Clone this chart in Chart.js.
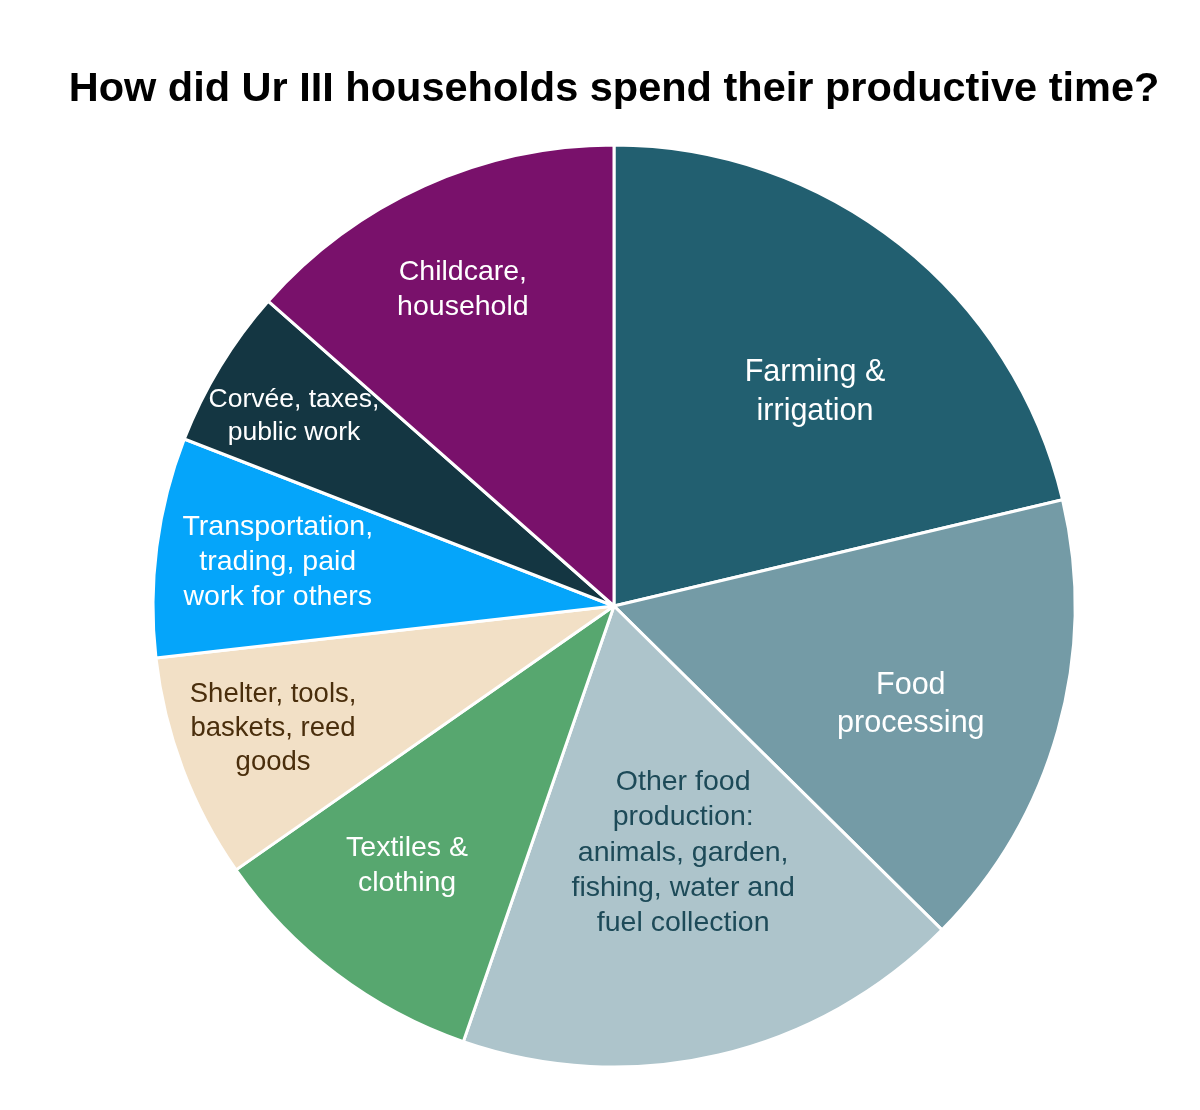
<!DOCTYPE html>
<html>
<head>
<meta charset="utf-8">
<script src="https://cdn.jsdelivr.net/npm/chart.js@4/dist/chart.umd.min.js"></script>
<style>
  html, body { margin: 0; padding: 0; background: #ffffff; }
  #wrap { width: 1200px; height: 1110px; position: relative; }
</style>
</head>
<body>
<div id="wrap"><canvas id="c" width="1200" height="1110"></canvas></div>
<script>
// ---- Data ----
const titleText = "How did Ur III households spend their productive time?";
const categories = [
  "Farming &\nirrigation",
  "Food\nprocessing",
  "Other food\nproduction:\nanimals, garden,\nfishing, water and\nfuel collection",
  "Textiles &\nclothing",
  "Shelter, tools,\nbaskets, reed\ngoods",
  "Transportation,\ntrading, paid\nwork for others",
  "Corvée, taxes,\npublic work",
  "Childcare,\nhousehold"
];
const shares = [21.3, 16.1, 17.9, 10.0, 7.9, 7.7, 5.6, 13.5];

// ---- Styles ----
const sliceColors = ["#225F70", "#749BA6", "#ADC4CB", "#57A76F", "#F2E0C6", "#05A5FA", "#143642", "#79116B"];
const labelColors = ["#ffffff", "#ffffff", "#1D4A58", "#ffffff", "#4A2E0C", "#ffffff", "#ffffff", "#ffffff"];
const labelFontSizes = [30.5, 30.5, 28.5, 28.5, 27.5, 28.5, 26.5, 28.5];
const labelLineHeights = [39, 38, 35.3, 35, 34, 35, 33, 35];
// label placement: radius as fraction of outer radius, angular nudge in degrees
const labelRadiusFrac = [0.633, 0.680, 0.560, 0.723, 0.787, 0.735, 0.805, 0.756];
const labelAngleNudge = [5.2, 3.1, -2.4, 1.3, 0.7, -0.3, -0.9, -1.4];
const FONT = '"Liberation Sans", Arial, Helvetica, sans-serif';

const sliceLabels = {
  id: 'sliceLabels',
  afterDatasetsDraw(chart) {
    const ctx = chart.ctx;
    const meta = chart.getDatasetMeta(0);
    meta.data.forEach((arc, i) => {
      const p = arc.getProps(['x', 'y', 'startAngle', 'endAngle', 'outerRadius'], true);
      const mid = (p.startAngle + p.endAngle) / 2 + labelAngleNudge[i] * Math.PI / 180;
      const r = p.outerRadius * labelRadiusFrac[i];
      const cx = p.x + Math.cos(mid) * r;
      const cy = p.y + Math.sin(mid) * r - 2;
      const lines = categories[i].split("\n");
      const lh = labelLineHeights[i];
      ctx.save();
      ctx.fillStyle = labelColors[i];
      ctx.font = labelFontSizes[i] + 'px ' + FONT;
      ctx.textAlign = 'center';
      ctx.textBaseline = 'middle';
      const y0 = cy - (lines.length - 1) * lh / 2;
      lines.forEach((ln, k) => ctx.fillText(ln, cx, y0 + k * lh));
      ctx.restore();
    });
  }
};

new Chart(document.getElementById('c'), {
  type: 'pie',
  data: {
    labels: categories,
    datasets: [{
      data: shares,
      backgroundColor: sliceColors,
      borderColor: '#ffffff',
      borderWidth: 3,
      hoverOffset: 0
    }]
  },
  options: {
    responsive: false,
    animation: false,
    devicePixelRatio: 1,
    layout: { padding: { left: 28, right: 0, top: 0, bottom: 41.5 } },
    plugins: {
      legend: { display: false },
      tooltip: { enabled: false },
      title: {
        display: true,
        text: titleText,
        color: '#000000',
        font: { family: FONT, size: 41.5, weight: 'bold', lineHeight: 1.2 },
        padding: { top: 65, bottom: 28.7 }
      }
    }
  },
  plugins: [sliceLabels]
});
</script>
</body>
</html>
